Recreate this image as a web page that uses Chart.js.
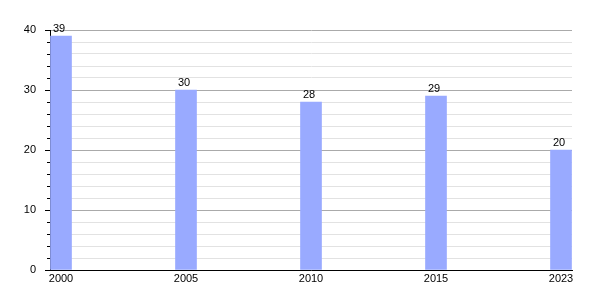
<!DOCTYPE html>
<html>
<head>
<meta charset="utf-8">
<script src="https://cdn.jsdelivr.net/npm/chart.js@4"></script>
<style>
  html, body { margin: 0; padding: 0; background: #fff; }
  #wrap { width: 600px; height: 300px; }
</style>
</head>
<body>
<div id="wrap"><canvas id="chart" width="600" height="300"></canvas></div>
<script>
// data
const years = ['2000', '2005', '2010', '2015', '2023'];
const values = [39, 30, 28, 29, 20];
const yTicks = [0, 10, 20, 30, 40];

const barColor = 'rgb(153,170,255)';

// value above each bar + short minor ticks on the y axis
const extras = {
  id: 'extras',
  afterDatasetsDraw(chart) {
    const ctx = chart.ctx;
    const meta = chart.getDatasetMeta(0);
    ctx.save();
    ctx.font = '11px "Liberation Sans", Arial, sans-serif';
    ctx.fillStyle = '#000';
    ctx.textAlign = 'center';
    ctx.textBaseline = 'alphabetic';
    meta.data.forEach((bar, i) => {
      ctx.fillText(values[i], bar.x - 2, bar.y - 4);
    });
    const y = chart.scales.y;
    ctx.strokeStyle = '#000';
    ctx.lineWidth = 1;
    ctx.beginPath();
    for (let v = 2; v < 40; v += 2) {
      if (v % 10 === 0) continue;
      const py = Math.round(y.getPixelForValue(v)) + 0.5;
      ctx.moveTo(y.right - 3, py);
      ctx.lineTo(y.right, py);
    }
    ctx.stroke();
    ctx.restore();
  }
};

new Chart(document.getElementById('chart'), {
  type: 'bar',
  data: {
    datasets: [{
      data: values.map((v, i) => ({ x: i, y: v })),
      backgroundColor: barColor,
      barThickness: 21
    }]
  },
  options: {
    responsive: false,
    animation: false,
    events: [],
    layout: { padding: { top: 30, right: 28, left: 0, bottom: 0 } },
    plugins: { legend: { display: false }, tooltip: { enabled: false } },
    scales: {
      x: {
        type: 'linear',
        offset: false,
        min: -0.088,
        max: 4.088,
        afterBuildTicks: s => { s.ticks = years.map((c, i) => ({ value: i })); },
        afterFit: s => { s.height = 30; },
        grid: { display: false, drawTicks: false },
        border: { color: '#000', width: 1 },
        ticks: {
          color: '#000',
          padding: 2,
          maxRotation: 0,
          autoSkip: false,
          font: { family: '"Liberation Sans", Arial, sans-serif', size: 11 },
          callback: v => years[v]
        }
      },
      y: {
        min: 0,
        max: 40,
        afterBuildTicks: s => {
          const t = [];
          for (let v = 0; v <= 40; v += 2) t.push({ value: v });
          s.ticks = t;
        },
        afterFit: s => { s.width = 50; },
        grid: {
          color: c => (c.tick.value % 10 === 0 ? '#aaaaaa' : '#e2e2e2'),
          tickColor: c => (c.tick.value % 10 === 0 ? '#000' : 'rgba(0,0,0,0)'),
          tickLength: 5
        },
        border: { color: '#000', width: 1 },
        ticks: {
          color: '#000',
          padding: 9,
          autoSkip: false,
          font: { family: '"Liberation Sans", Arial, sans-serif', size: 11 },
          callback: v => (yTicks.includes(v) ? v : '')
        }
      }
    }
  },
  plugins: [extras]
});
</script>
</body>
</html>
